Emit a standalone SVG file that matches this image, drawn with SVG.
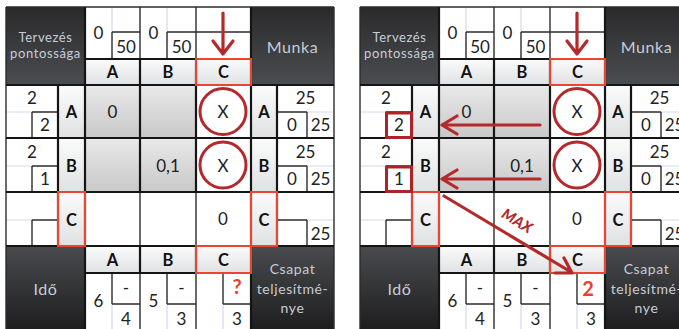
<svg xmlns="http://www.w3.org/2000/svg" width="679" height="329" viewBox="0 0 679 329">
<defs>
<linearGradient id="dd" x1="0" y1="0" x2="0" y2="1"><stop offset="0" stop-color="#2a2a2b"/><stop offset="1" stop-color="#4b4d50"/></linearGradient>
<linearGradient id="du" x1="0" y1="0" x2="0" y2="1"><stop offset="0" stop-color="#494b4e"/><stop offset="1" stop-color="#1e1e1f"/></linearGradient>
<linearGradient id="hg" x1="0" y1="0" x2="0" y2="1"><stop offset="0" stop-color="#fbfbfb"/><stop offset="1" stop-color="#dfe1e3"/></linearGradient>
<linearGradient id="gg" x1="0" y1="0" x2="0" y2="1"><stop offset="0" stop-color="#e9e9e9"/><stop offset="1" stop-color="#c8c8c8"/></linearGradient>
<style>
.num{font-family:Lato,"Noto Sans",sans-serif;font-size:17px;fill:#222;text-anchor:middle}
.hdr{font-family:Lato,"Noto Sans",sans-serif;font-size:16.5px;font-weight:bold;fill:#111;text-anchor:middle}
.dk{font-family:Lato,"Noto Sans",sans-serif;fill:#c6cdd8;text-anchor:middle;letter-spacing:0.6px}
.s13{font-size:13px}.s16{font-size:16px}.s14{font-size:14px}
.red{font-family:Lato,"Noto Sans",sans-serif;font-size:20px;font-weight:bold;fill:#e9412e;text-anchor:middle}
.hd{fill:url(#hg)}
.gr{fill:url(#gg)}
.thick{fill:none;stroke:#151515;stroke-width:2.2}
.thin{fill:none;stroke:#2c2c2c;stroke-width:1.4}
.faint{fill:none;stroke:#d3dae8;stroke-width:1.2}
.hl{fill:none;stroke:#ec4430;stroke-width:2}
.ci{fill:none;stroke:#b5292c;stroke-width:3}
.sb{fill:none;stroke:#a82626;stroke-width:3}
.ar{fill:none;stroke:#b3292c;stroke-width:3.2;stroke-linecap:round;stroke-linejoin:round}
.mx{font-family:Lato,"Noto Sans",sans-serif;font-size:15px;font-weight:900;font-style:italic;fill:#b3292c;text-anchor:middle}
</style>
</defs>
<rect width="679" height="329" fill="#fff"/>

<g id="left">
 <g id="l-tervezes"><rect x="6" y="7" width="79" height="78" fill="url(#dd)"/><text class="dk s13" x="45.5" y="42">Tervezés</text><text class="dk s13" x="45.5" y="58">pontossága</text></g>
 <g id="l-munka"><rect x="251" y="7" width="83" height="78" fill="url(#dd)"/><text class="dk s16" x="292.5" y="53">Munka</text></g>
 <g id="l-ido"><rect x="6" y="246" width="79" height="83" fill="url(#du)"/><text class="dk s16" x="45.5" y="295">Idő</text></g>
 <g id="l-csapat"><rect x="251" y="246" width="83" height="83" fill="url(#du)"/><text class="dk s14" x="292.5" y="274">Csapat</text><text class="dk s14" x="292.5" y="294">teljesítmé-</text><text class="dk s14" x="292.5" y="313">nye</text></g>
 <g id="l-cells">
  <rect class="hd" x="85" y="59" width="55" height="26"/><rect class="hd" x="140" y="59" width="56" height="26"/><rect class="hd" x="196" y="59" width="55" height="26"/>
  <rect class="hd" x="85" y="246" width="55" height="27"/><rect class="hd" x="140" y="246" width="56" height="27"/><rect class="hd" x="196" y="246" width="55" height="27"/>
  <rect class="hd" x="58" y="85" width="27" height="53"/><rect class="hd" x="58" y="138" width="27" height="54"/><rect class="hd" x="58" y="192" width="27" height="54"/>
  <rect class="hd" x="251" y="85" width="26" height="53"/><rect class="hd" x="251" y="138" width="26" height="54"/><rect class="hd" x="251" y="192" width="26" height="54"/>
  <rect class="gr" x="85" y="85" width="55" height="53"/><rect class="gr" x="140" y="85" width="56" height="53"/>
  <rect class="gr" x="85" y="138" width="55" height="54"/><rect class="gr" x="140" y="138" width="56" height="54"/>
 </g>
 <path class="faint" d="M112 7V32M167 7V32M6 112H32M6 166H32M6 220H32M307 112H334M307 166H334M307 220H334M112 304V329M167 304V329M223 304V329"/>
 <path class="thin" d="M6 7H334M6 7V329M334 7V329M140 7V59M196 7V59M112 32V59M167 32V59M112 32H140M167 32H251M32 112V138M32 112H58M32 166V192M32 166H58M32 220V246M32 220H58M307 112V138M277 112H307M307 166V192M277 166H307M307 220V246M277 220H307M140 192V246M196 192V246M112 273V304M112 304H140M140 273V329M167 273V304M167 304H196M196 273V329M223 273V304M223 304H251"/>
 <path class="thick" d="M6 85H334M6 138H334M6 192H334M6 246H334M85 59H251M85 273H251M58 85V246M85 7V329M140 59V192M196 59V192M251 7V329M277 85V246M140 246V273M196 246V273"/>
 <rect class="hl" x="196" y="59" width="55" height="26"/><rect class="hl" x="196" y="246" width="55" height="27"/>
 <rect class="hl" x="58" y="192" width="27" height="54"/><rect class="hl" x="251" y="192" width="26" height="54"/>
 <circle class="ci" cx="223" cy="111.5" r="23"/><circle class="ci" cx="223" cy="165" r="23"/>
 <g id="l-texts">
  <text class="num" x="98.5" y="39">0</text><text class="num" x="126" y="53">50</text><text class="num" x="153.5" y="39">0</text><text class="num" x="181.5" y="53">50</text>
  <text class="hdr" x="112.5" y="78">A</text><text class="hdr" x="168" y="78">B</text><text class="hdr" x="223.5" y="78">C</text>
  <text class="hdr" x="112.5" y="266">A</text><text class="hdr" x="168" y="266">B</text><text class="hdr" x="223.5" y="266">C</text>
  <text class="hdr" x="71.5" y="118">A</text><text class="hdr" x="71.5" y="172">B</text><text class="hdr" x="71.5" y="226">C</text>
  <text class="hdr" x="264" y="118">A</text><text class="hdr" x="264" y="172">B</text><text class="hdr" x="264" y="226">C</text>
  <text class="num" x="32" y="104">2</text><text class="num" x="45" y="131">2</text><text class="num" x="32" y="158">2</text><text class="num" x="45" y="185">1</text>
  <text class="num" x="112.5" y="118">0</text><text class="num" x="223" y="118">X</text><text class="num" x="168" y="172">0,1</text><text class="num" x="223" y="172">X</text><text class="num" x="223" y="225">0</text>
  <text class="num" x="305.5" y="104">25</text><text class="num" x="292" y="131">0</text><text class="num" x="320.5" y="131">25</text>
  <text class="num" x="305.5" y="158">25</text><text class="num" x="292" y="185">0</text><text class="num" x="320.5" y="185">25</text>
  <text class="num" x="320.5" y="240">25</text>
  <text class="num" x="98.5" y="307">6</text><text class="num" x="126" y="294">-</text><text class="num" x="126" y="325">4</text>
  <text class="num" x="153.5" y="307">5</text><text class="num" x="181.5" y="294">-</text><text class="num" x="181.5" y="325">3</text>
  <text class="red" x="237" y="294">?</text><text class="num" x="237" y="325">3</text>
 </g>
</g>

<g id="right" transform="translate(354 0)">
 <g id="r-tervezes"><rect x="6" y="7" width="79" height="78" fill="url(#dd)"/><text class="dk s13" x="45.5" y="42">Tervezés</text><text class="dk s13" x="45.5" y="58">pontossága</text></g>
 <g id="r-munka"><rect x="251" y="7" width="83" height="78" fill="url(#dd)"/><text class="dk s16" x="292.5" y="53">Munka</text></g>
 <g id="r-ido"><rect x="6" y="246" width="79" height="83" fill="url(#du)"/><text class="dk s16" x="45.5" y="295">Idő</text></g>
 <g id="r-csapat"><rect x="251" y="246" width="83" height="83" fill="url(#du)"/><text class="dk s14" x="292.5" y="274">Csapat</text><text class="dk s14" x="292.5" y="294">teljesítmé-</text><text class="dk s14" x="292.5" y="313">nye</text></g>
 <g id="r-cells">
  <rect class="hd" x="85" y="59" width="55" height="26"/><rect class="hd" x="140" y="59" width="56" height="26"/><rect class="hd" x="196" y="59" width="55" height="26"/>
  <rect class="hd" x="85" y="246" width="55" height="27"/><rect class="hd" x="140" y="246" width="56" height="27"/><rect class="hd" x="196" y="246" width="55" height="27"/>
  <rect class="hd" x="58" y="85" width="27" height="53"/><rect class="hd" x="58" y="138" width="27" height="54"/><rect class="hd" x="58" y="192" width="27" height="54"/>
  <rect class="hd" x="251" y="85" width="26" height="53"/><rect class="hd" x="251" y="138" width="26" height="54"/><rect class="hd" x="251" y="192" width="26" height="54"/>
  <rect class="gr" x="85" y="85" width="55" height="53"/><rect class="gr" x="140" y="85" width="56" height="53"/>
  <rect class="gr" x="85" y="138" width="55" height="54"/><rect class="gr" x="140" y="138" width="56" height="54"/>
 </g>
 <path class="faint" d="M112 7V32M167 7V32M6 112H32M6 166H32M6 220H32M307 112H334M307 166H334M307 220H334M112 304V329M167 304V329M223 304V329"/>
 <path class="thin" d="M6 7H334M6 7V329M334 7V329M140 7V59M196 7V59M112 32V59M167 32V59M112 32H140M167 32H251M32 112V138M32 112H58M32 166V192M32 166H58M32 220V246M32 220H58M307 112V138M277 112H307M307 166V192M277 166H307M307 220V246M277 220H307M140 192V246M196 192V246M112 273V304M112 304H140M140 273V329M167 273V304M167 304H196M196 273V329M223 273V304M223 304H251"/>
 <path class="thick" d="M6 85H334M6 138H334M6 192H334M6 246H334M85 59H251M85 273H251M58 85V246M85 7V329M140 59V192M196 59V192M251 7V329M277 85V246M140 246V273M196 246V273"/>
 <rect class="hl" x="196" y="59" width="55" height="26"/><rect class="hl" x="196" y="246" width="55" height="27"/>
 <rect class="hl" x="58" y="192" width="27" height="54"/><rect class="hl" x="251" y="192" width="26" height="54"/>
 <circle class="ci" cx="223" cy="111.5" r="23"/><circle class="ci" cx="223" cy="165" r="23"/>
 <rect class="sb" x="32.5" y="113" width="25" height="24.5"/><rect class="sb" x="32.5" y="167" width="25" height="24.5"/>
 <g id="r-texts">
  <text class="num" x="98.5" y="39">0</text><text class="num" x="126" y="53">50</text><text class="num" x="153.5" y="39">0</text><text class="num" x="181.5" y="53">50</text>
  <text class="hdr" x="112.5" y="78">A</text><text class="hdr" x="168" y="78">B</text><text class="hdr" x="223.5" y="78">C</text>
  <text class="hdr" x="112.5" y="266">A</text><text class="hdr" x="168" y="266">B</text><text class="hdr" x="223.5" y="266">C</text>
  <text class="hdr" x="71.5" y="118">A</text><text class="hdr" x="71.5" y="172">B</text><text class="hdr" x="71.5" y="226">C</text>
  <text class="hdr" x="264" y="118">A</text><text class="hdr" x="264" y="172">B</text><text class="hdr" x="264" y="226">C</text>
  <text class="num" x="32" y="104">2</text><text class="num" x="45" y="131">2</text><text class="num" x="32" y="158">2</text><text class="num" x="45" y="185">1</text>
  <text class="num" x="112.5" y="118">0</text><text class="num" x="223" y="118">X</text><text class="num" x="168" y="172">0,1</text><text class="num" x="223" y="172">X</text><text class="num" x="223" y="225">0</text>
  <text class="num" x="305.5" y="104">25</text><text class="num" x="292" y="131">0</text><text class="num" x="320.5" y="131">25</text>
  <text class="num" x="305.5" y="158">25</text><text class="num" x="292" y="185">0</text><text class="num" x="320.5" y="185">25</text>
  <text class="num" x="320.5" y="240">25</text>
  <text class="num" x="98.5" y="307">6</text><text class="num" x="126" y="294">-</text><text class="num" x="126" y="325">4</text>
  <text class="num" x="153.5" y="307">5</text><text class="num" x="181.5" y="294">-</text><text class="num" x="181.5" y="325">3</text>
  <text class="red" x="234" y="296">2</text><text class="num" x="237" y="325">3</text>
 </g>
</g>

<g id="connectors" class="ar">
 <path d="M223 13V53M213 41L223 54L233 41"/>
 <path d="M577 13V53M567 41L577 54L587 41"/>
 <path d="M540 125H442M457 116L442 125L457 134"/>
 <path d="M540 179H442M457 170L442 179L457 188"/>
 <path d="M444 196L571 272M564 258L572 273L555 273"/>
 <text class="mx" transform="translate(517 221) rotate(31)" x="0" y="5" stroke="none">MAX</text>
</g>
</svg>
